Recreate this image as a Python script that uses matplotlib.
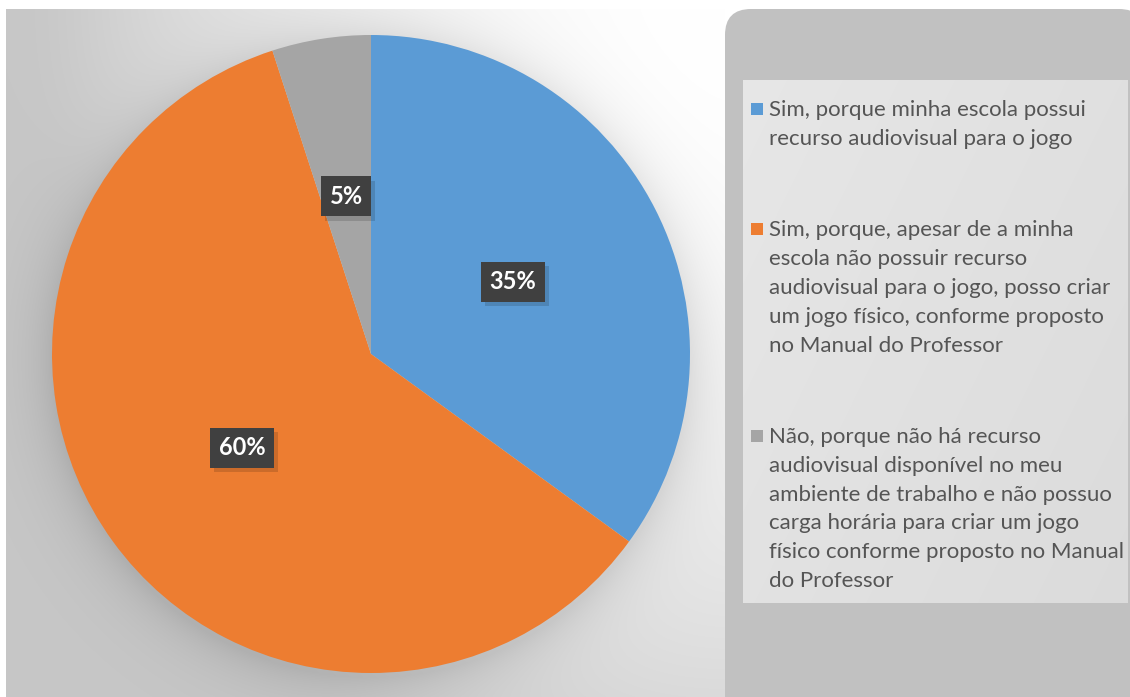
import numpy as np
import matplotlib
matplotlib.use("Agg")
import matplotlib.pyplot as plt
from matplotlib.patches import FancyBboxPatch, Rectangle
import matplotlib.patheffects as pe

plt.rcParams['font.family'] = ['Lato', 'DejaVu Sans']

categories = [
    "Sim, porque minha escola possui\nrecurso audiovisual para o jogo",
    "Sim, porque, apesar de a minha\nescola não possuir recurso\naudiovisual para o jogo, posso criar\num jogo físico, conforme proposto\nno Manual do Professor",
    "Não, porque não há recurso\naudiovisual disponível no meu\nambiente de trabalho e não possuo\ncarga horária para criar um jogo\nfísico conforme proposto no Manual\ndo Professor",
]
values = [35, 60, 5]
colors = ['#5B9BD5', '#ED7D31', '#A5A5A5']

W, H = 1130, 697
fig = plt.figure(figsize=(W / 100, H / 100), dpi=100)

# ---- background image ----
bg = fig.add_axes([0, 0, 1, 1])
bg.set_xlim(0, W)
bg.set_ylim(H, 0)
bg.axis('off')

yy, xx = np.mgrid[0:H, 0:W].astype(float)
dx = 720 - xx
dy = yy - 0
d2 = dx ** 2 + 0.62 * dy ** 2
val = 1.0 - 4.8e-7 * d2
val = 0.78 + 0.01 * np.log1p(np.exp((val - 0.78) / 0.01))
cx, cy, R = 371.0, 354.0, 319.0
r = np.hypot(xx - cx, (yy - 4) - cy)
shadow = np.where(r > R, 0.09 * np.exp(-(r - R) / 26.0), 0.09)
val = np.clip(val - shadow, 0, 1)

# inner legend box gradient
lx0, ly0, lx1, ly1 = 743, 80, 1128, 603
box = (xx >= lx0) & (xx < lx1) & (yy >= ly0) & (yy < ly1)
bval = 0.905 - 0.045 * (((xx - lx0) / (lx1 - lx0)) * 0.6 + ((yy - ly0) / (ly1 - ly0)) * 0.4)

img = np.ones((H, W, 3))
mask = (xx >= 6) & (yy >= 9) & (xx < 725)
for c in range(3):
    ch = img[:, :, c]
    ch[mask] = val[mask]
bg.imshow(img, extent=(0, W, H, 0), interpolation='bilinear', zorder=0)

# right panel
panel = FancyBboxPatch((725, 9), 420, 720, boxstyle="round,pad=0,rounding_size=26",
                       facecolor='#c1c1c1', edgecolor='none', zorder=1)
bg.add_patch(panel)
limg = np.ones((ly1 - ly0, lx1 - lx0, 4))
sub = bval[ly0:ly1, lx0:lx1]
for c in range(3):
    limg[:, :, c] = sub
bg.imshow(limg, extent=(lx0, lx1, ly1, ly0), interpolation='bilinear', zorder=2)
bg.set_xlim(0, W)
bg.set_ylim(H, 0)

# ---- pie ----
px0 = (cx - R) / W
py0 = (H - cy - R) / H
ax = fig.add_axes([px0, py0, 2 * R / W, 2 * R / H])
wedges, texts, autotexts = ax.pie(
    values, colors=colors, startangle=90, counterclock=False, radius=1.0,
    autopct=lambda p: f"{p:.0f}%", pctdistance=0.5,
    wedgeprops=dict(linewidth=0),
    textprops=dict(color='white', fontsize=17, fontweight='bold'),
)
for at in autotexts:
    at.set_bbox(dict(boxstyle='square,pad=0.36', facecolor='#404040', edgecolor='none'))
    at.get_bbox_patch().set_path_effects(
        [pe.SimplePatchShadow(offset=(3, -3), shadow_rgbFace='#000000', alpha=0.14), pe.Normal()])
ax.set_aspect('auto')
ax.set_xlim(-1, 1)
ax.set_ylim(-1, 1)
ax.axis('off')

# ---- legend (manual, one block per category) ----
line_h = 28.8
y_base = 116.0
for label, col in zip(categories, colors):
    lines = label.split("\n")
    bg.add_patch(Rectangle((751, y_base - 13), 12, 12, facecolor=col,
                           edgecolor='none', zorder=3))
    for k, ln in enumerate(lines):
        bg.text(769, y_base + k * line_h, ln, fontsize=16, color='#555555',
                ha='left', va='baseline', zorder=4)
    y_base += (len(lines) - 1) * line_h + 91.5

fig.savefig('out.png', dpi=100)
